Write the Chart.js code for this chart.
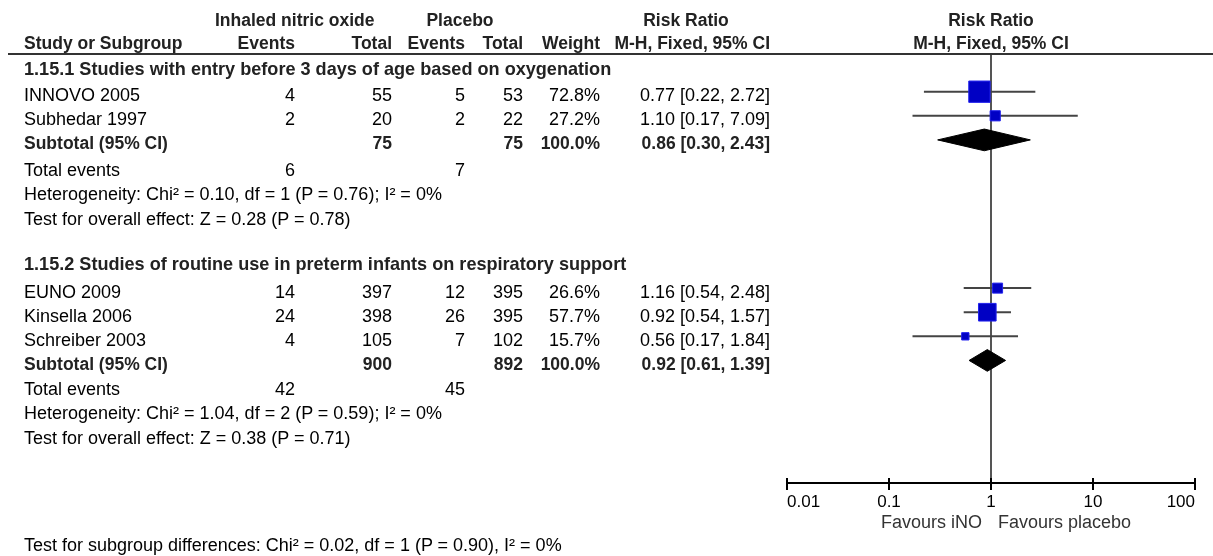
<!DOCTYPE html>
<html><head><meta charset="utf-8">
<script src="https://cdn.jsdelivr.net/npm/chart.js@4.4.1/dist/chart.umd.min.js"></script>
<style>
html,body{margin:0;padding:0;background:#fff;}
#wrap{position:relative;width:1213px;height:556px;overflow:hidden;font-family:"Liberation Sans",Arial,sans-serif;}
#c{position:absolute;left:0;top:0;}
.t{position:absolute;white-space:nowrap;line-height:20px;font-size:18px;color:#000;}
.b{font-weight:bold;font-size:17.5px;color:#222;}
.g{font-size:18.1px;}
#hline{position:absolute;left:8px;right:0;top:53px;height:2px;background:#333;}
</style></head><body>
<div id="wrap"><canvas id="c" width="1213" height="556"></canvas><div id="hline"></div></div>
<script>
// ---------- data ----------
const studies    = ['INNOVO 2005', 'Subhedar 1997', 'EUNO 2009', 'Kinsella 2006', 'Schreiber 2003'];
const inoEvents  = [4, 2, 14, 24, 4];
const inoTotal   = [55, 20, 397, 398, 105];
const plEvents   = [5, 2, 12, 26, 7];
const plTotal    = [53, 22, 395, 395, 102];
const weights    = [72.8, 27.2, 26.6, 57.7, 15.7];
const riskRatio  = [0.77, 1.10, 1.16, 0.92, 0.56];
const ciLow      = [0.22, 0.17, 0.54, 0.54, 0.17];
const ciHigh     = [2.72, 7.09, 2.48, 1.57, 1.84];
const studyRow   = [0, 1, 8.15, 9.15, 10.15];

const groupTitles   = ['1.15.1 Studies with entry before 3 days of age based on oxygenation',
                       '1.15.2 Studies of routine use in preterm infants on respiratory support'];
const groupTitleRow = [-1.1, 7.0];
const subIno        = [75, 900];
const subPl         = [75, 892];
const subRR         = [0.86, 0.92];
const subLow        = [0.30, 0.61];
const subHigh       = [2.43, 1.39];
const subRow        = [2, 11.15];
const totEvIno      = [6, 42];
const totEvPl       = [7, 45];
const totEvRow      = [3.1, 12.2];
const hetText       = ['Heterogeneity: Chi² = 0.10, df = 1 (P = 0.76); I² = 0%',
                       'Heterogeneity: Chi² = 1.04, df = 2 (P = 0.59); I² = 0%'];
const hetRow        = [4.1, 13.2];
const effText       = ['Test for overall effect: Z = 0.28 (P = 0.78)',
                       'Test for overall effect: Z = 0.38 (P = 0.71)'];
const effRow        = [5.15, 14.22];
const diffText      = 'Test for subgroup differences: Chi² = 0.02, df = 1 (P = 0.90), I² = 0%';
const diffRow       = 18.65;

const tickValues = [0.01, 0.1, 1, 10, 100];
const tickLabels = ['0.01', '0.1', '1', '10', '100'];

// ---------- chart ----------
const W = 1213;
const datasets = [];
datasets.push({
  label: 'studies', order: 0,
  data: studies.map((s, i) => ({x: riskRatio[i], y: studyRow[i]})),
  pointStyle: 'rect',
  pointRadius: weights.map(w => (3.5 + 0.245 * w) / Math.SQRT2),
  backgroundColor: '#0000C4', borderColor: '#2222EE', borderWidth: 1, showLine: false
});
studies.forEach((s, i) => datasets.push({
  label: 'ci' + i, order: 2, showLine: true,
  data: [{x: ciLow[i], y: studyRow[i]}, {x: ciHigh[i], y: studyRow[i]}],
  borderColor: '#444', borderWidth: 2, pointRadius: 0
}));
subRR.forEach((v, i) => datasets.push({
  label: 'sub' + i, order: 1, showLine: true, fill: 'shape', tension: 0,
  data: [{x: subLow[i], y: subRow[i]}, {x: v, y: subRow[i] - 0.45},
         {x: subHigh[i], y: subRow[i]}, {x: v, y: subRow[i] + 0.45}, {x: subLow[i], y: subRow[i]}],
  borderColor: '#000', backgroundColor: '#000', borderWidth: 1, pointRadius: 0
}));

const upTicks = {
  id: 'upTicks',
  afterDraw(chart) {
    const xs = chart.scales.x, ctx = chart.ctx, b = chart.chartArea.bottom;
    ctx.save(); ctx.strokeStyle = '#000'; ctx.lineWidth = 2;
    xs.ticks.forEach(t => {
      const p = Math.round(xs.getPixelForValue(t.value));
      ctx.beginPath(); ctx.moveTo(p, b - 5); ctx.lineTo(p, b); ctx.stroke();
    });
    ctx.restore();
  }
};

const chart = new Chart(document.getElementById('c'), {
  type: 'scatter',
  data: {datasets},
  plugins: [upTicks],
  options: {
    responsive: false, animation: false, events: [],
    layout: {padding: {left: 787, right: 18, top: 55, bottom: 0}},
    plugins: {legend: {display: false}, tooltip: {enabled: false}},
    scales: {
      x: {
        type: 'logarithmic', min: 0.01, max: 100, position: 'bottom',
        afterBuildTicks: s => { s.ticks = tickValues.map(v => ({value: v})); },
        afterFit: s => { s.height = 73; },
        ticks: {
          callback: (v, i) => tickLabels[i], align: 'inner', autoSkip: false, maxRotation: 0,
          color: '#000', padding: 2, font: {family: '"Liberation Sans", Arial, sans-serif', size: 17}
        },
        grid: {
          drawOnChartArea: true, tickLength: 7, tickColor: '#000', tickWidth: 2, lineWidth: 2,
          color: c => (c.tick && c.tick.value === 1) ? '#555' : 'rgba(0,0,0,0)'
        },
        border: {display: true, color: '#000', width: 2}
      },
      y: {type: 'linear', min: -1.523, max: 16.236, reverse: true, display: false}
    }
  }
});

// ---------- table text ----------
const wrap = document.getElementById('wrap');
function put(text, x, yc, align, bold, color, extra) {
  const d = document.createElement('div');
  d.className = 't' + (bold ? ' b' : '') + (extra ? ' ' + extra : '');
  d.textContent = text;
  d.style.top = (yc - 10) + 'px';
  if (align === 'right') d.style.right = (W - x) + 'px';
  else if (align === 'center') { d.style.left = x + 'px'; d.style.transform = 'translateX(-50%)'; }
  else d.style.left = x + 'px';
  if (color) d.style.color = color;
  wrap.appendChild(d);
}
const ys = chart.scales.y;
const rowY = r => ys.getPixelForValue(r) + 3.5;
const fmt = (v, a, b) => v.toFixed(2) + ' [' + a.toFixed(2) + ', ' + b.toFixed(2) + ']';
const col = {label: 24, inoEv: 295, inoTot: 392, plEv: 465, plTot: 523, weight: 600, ci: 770};

// headers
put('Inhaled nitric oxide', 215, 19.7, 'left', true);
put('Placebo', 460, 19.7, 'center', true);
put('Risk Ratio', 686, 19.7, 'center', true);
put('Risk Ratio', 991, 19.7, 'center', true);
put('Study or Subgroup', col.label, 43, 'left', true);
put('Events', col.inoEv, 43, 'right', true);
put('Total', col.inoTot, 43, 'right', true);
put('Events', col.plEv, 43, 'right', true);
put('Total', col.plTot, 43, 'right', true);
put('Weight', col.weight, 43, 'right', true);
put('M-H, Fixed, 95% CI', col.ci, 43, 'right', true);
put('M-H, Fixed, 95% CI', 991, 43, 'center', true);

// groups
groupTitles.forEach((g, i) => put(g, col.label, rowY(groupTitleRow[i]), 'left', true, null, 'g'));
studies.forEach((s, i) => {
  const y = rowY(studyRow[i]);
  put(s, col.label, y, 'left');
  put(String(inoEvents[i]), col.inoEv, y, 'right');
  put(String(inoTotal[i]), col.inoTot, y, 'right');
  put(String(plEvents[i]), col.plEv, y, 'right');
  put(String(plTotal[i]), col.plTot, y, 'right');
  put(weights[i].toFixed(1) + '%', col.weight, y, 'right');
  put(fmt(riskRatio[i], ciLow[i], ciHigh[i]), col.ci, y, 'right');
});
subRR.forEach((v, i) => {
  const y = rowY(subRow[i]);
  put('Subtotal (95% CI)', col.label, y, 'left', true);
  put(String(subIno[i]), col.inoTot, y, 'right', true);
  put(String(subPl[i]), col.plTot, y, 'right', true);
  put('100.0%', col.weight, y, 'right', true);
  put(fmt(v, subLow[i], subHigh[i]), col.ci, y, 'right', true);
  const y2 = rowY(totEvRow[i]);
  put('Total events', col.label, y2, 'left');
  put(String(totEvIno[i]), col.inoEv, y2, 'right');
  put(String(totEvPl[i]), col.plEv, y2, 'right');
  put(hetText[i], col.label, rowY(hetRow[i]), 'left');
  put(effText[i], col.label, rowY(effRow[i]), 'left');
});
put(diffText, col.label, rowY(diffRow), 'left');
put('Favours iNO', 982, 521.5, 'right', false, '#333');
put('Favours placebo', 998, 521.5, 'left', false, '#333');
</script>
</body></html>
